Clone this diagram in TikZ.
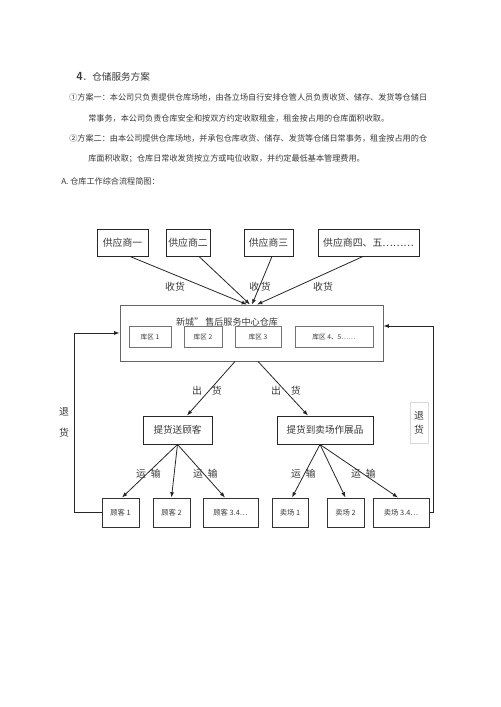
\documentclass[tikz,border=0pt]{standalone}
\usepackage{fontspec}
\newfontfamily\cjk{Noto Sans CJK SC}
\usetikzlibrary{arrows.meta,calc}

\begin{document}
\begin{tikzpicture}[x=0.75pt,y=0.75pt,yscale=-1,xscale=1,
  every node/.style={font=\cjk, text=black!78, inner sep=0.75pt},
  para/.style={anchor=west, font=\cjk\fontsize{6.1}{7}\selectfont},
  box/.style={draw=black!85, line width=0.7pt, inner sep=0pt, font=\cjk\fontsize{7.4}{8}\selectfont},
  zone/.style={draw=black!55, line width=0.6pt, inner sep=0pt, font=\cjk\fontsize{5}{6}\selectfont},
  smallbox/.style={draw=black!80, line width=0.7pt, inner sep=0pt, font=\cjk\fontsize{5.5}{6}\selectfont},
  lab/.style={font=\cjk\fontsize{7.4}{8}\selectfont},
  flow/.style={draw=black!85, line width=0.6pt, -{Latex[length=4pt,width=3pt]}},
  plain/.style={draw=black!85, line width=0.6pt},
]
\path[use as bounding box] (0,0) rectangle (500,707);

% Text Node
\draw (75,77) node [anchor=west, font=\cjk\fontsize{7.2}{8}\selectfont] (title) {{\sffamily\bfseries\fontsize{8.8}{9}\selectfont 4}．仓储服务方案};
% Text Node
\draw (68,97) node [para] (p1) {①方案一：本公司只负责提供仓库场地，由各立场自行安排仓管人员负责收货、储存、发货等仓储日};
% Text Node
\draw (87,118) node [para] (p2) {常事务，本公司负责仓库安全和按双方约定收取租金，租金按占用的仓库面积收取。};
% Text Node
\draw (68,138) node [para] (p3) {②方案二：由本公司提供仓库场地，并承包仓库收货、储存、发货等仓储日常事务，租金按占用的仓};
% Text Node
\draw (87,159) node [para] (p4) {库面积收取；仓库日常收发货按立方或吨位收取，并约定最低基本管理费用。};
% Text Node
\draw (60,181) node [para] (p5) {A. 仓库工作综合流程简图：};

%Shape: Rectangle (suppliers)
\draw (122.5,242.5) node [box, minimum width=38.25pt, minimum height=20.25pt] (s1) {供应商一};
\draw (188,242.5) node [box, minimum width=33pt, minimum height=20.25pt] (s2) {供应商二};
\draw (268.5,242.5) node [box, minimum width=36.75pt, minimum height=20.25pt] (s3) {供应商三};
\draw (368.5,242.5) node [box, minimum width=75.75pt, minimum height=20.25pt] (s4) {供应商四、五………};

%Shape: Rectangle (warehouse)
\draw (251.5,333) node [draw=black!60, line width=0.7pt, minimum width=197.25pt, minimum height=42pt, inner sep=0pt] (wh) {};
% Text Node
\draw (227,322) node [font=\cjk\fontsize{6.8}{7}\selectfont] (whname) {新城” 售后服务中心仓库};
\draw (150,336.5) node [zone, minimum width=31.5pt, minimum height=15.75pt] (k1) {库区 1};
\draw (203,336.5) node [zone, minimum width=28.5pt, minimum height=15.75pt] (k2) {库区 2};
\draw (258,336.5) node [zone, minimum width=34.5pt, minimum height=15.75pt] (k3) {库区 3};
\draw (334,336.5) node [zone, minimum width=58.5pt, minimum height=15.75pt] (k4) {库区 4、5……};

%Shape: Rectangle (pick up)
\draw (177.5,430) node [box, font=\cjk\fontsize{7.2}{8}\selectfont, minimum width=51.75pt, minimum height=21pt] (c1) {提货送顾客};
\draw (325,430) node [box, font=\cjk\fontsize{7.2}{8}\selectfont, minimum width=72pt, minimum height=21pt] (c2) {提货到卖场作展品};

%Shape: Rectangle (customers, shops)
\draw (120.5,512.5) node [smallbox, minimum width=27.75pt, minimum height=21.75pt] (g1) {顾客 1};
\draw (171.5,512.5) node [smallbox, minimum width=27.75pt, minimum height=21.75pt] (g2) {顾客 2};
\draw (230.5,512.5) node [smallbox, minimum width=41.25pt, minimum height=21.75pt] (g3) {顾客 3.4…};
\draw (290,512.5) node [smallbox, minimum width=27pt, minimum height=21.75pt] (m1) {卖场 1};
\draw (345.5,512.5) node [smallbox, minimum width=27.75pt, minimum height=21.75pt] (m2) {卖场 2};
\draw (401,512.5) node [smallbox, minimum width=42pt, minimum height=21.75pt] (m3) {卖场 3.4…};

%Straight Lines (receiving)
\draw [flow] ($(s1.south)+(7.5,0)$) -- ($(wh.north)+(-4.5,0)$);
\draw [flow] ($(s2.south)+(11,0)$) -- ($(wh.north)+(-1.5,0)$);
\draw [flow] ($(s3.south)+(3.5,0)$) -- ($(wh.north)+(0.5,0)$);
\draw [flow] ($(s4.south)+(-5.5,0)$) -- ($(wh.north)+(5.5,0)$);

%Straight Lines (shipping)
\draw [flow] ($(wh.south)+(-16.5,0)$) -- ($(c1.north)+(9.5,0)$);
\draw [flow] ($(wh.south)+(6.5,0)$) -- ($(c2.north)+(-17,0)$);

%Straight Lines (transport)
\draw [flow] (c1.south) -- ($(g1.north)+(1.5,0)$);
\draw [flow] (c1.south) -- (g2.north);
\draw [flow] (c1.south) -- ($(g3.north)+(-5.5,0)$);
\draw [flow] ($(c2.south)+(-5,0)$) -- ($(m1.north)+(2,0)$);
\draw [flow] ($(c2.south)+(-5,0)$) -- (m2.north);
\draw [flow] ($(c2.south)+(-5,0)$) -- ($(m3.north)+(-3,0)$);

%Straight Lines (returns)
\draw [flow] (g1.west) -- ++(-27,0) |- (wh.west);
\draw [flow] (m3.east) -- ++(4,0) |- ($(wh.east)+(0,-7)$);

% Text Node
\draw (175,287) node [lab] (r1) {收货};
\draw (260,287) node [lab] (r2) {收\,货};
\draw (323,287) node [lab] (r3) {收货};
% Text Node
\draw (207,391) node [lab] (o1) {出\quad 货};
\draw (286,391) node [lab] (o2) {出\quad 货};
% Text Node
\draw (148.5,474) node [lab] (t1) {运\enspace 输};
\draw (205.5,474) node [lab] (t2) {运\enspace 输};
\draw (303.5,474) node [lab] (t3) {运\enspace 输};
\draw (363.5,474) node [lab] (t4) {运\enspace 输};
% Text Node
\draw (64,422.5) node [lab, align=center, font=\cjk\fontsize{7.4}{15.75}\selectfont] (back1) {退\\货};
\draw (419,422.5) node [lab, draw=black!15, align=center, minimum width=13.5pt, minimum height=30.75pt, inner sep=0pt, font=\cjk\fontsize{7.4}{10.5}\selectfont] (back2) {退\\货};

\end{tikzpicture}
\end{document}
